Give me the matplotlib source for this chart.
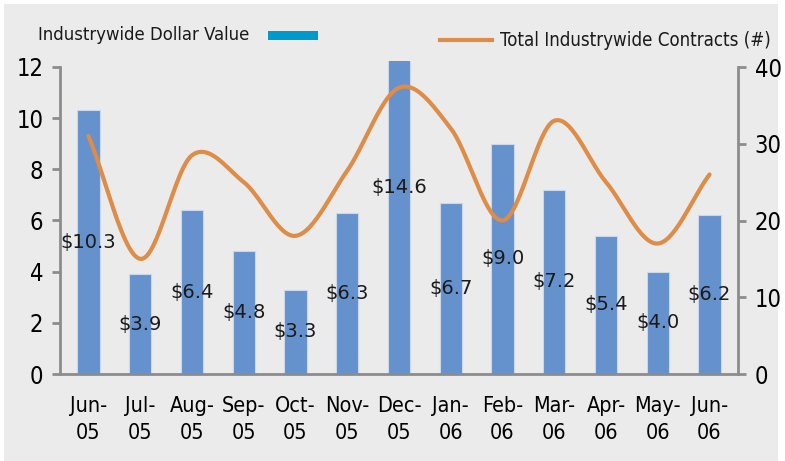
import numpy as np
import matplotlib.pyplot as plt
from matplotlib.patches import Rectangle
from matplotlib.lines import Line2D

# data
months = ["Jun-\n05", "Jul-\n05", "Aug-\n05", "Sep-\n05", "Oct-\n05", "Nov-\n05", "Dec-\n05",
          "Jan-\n06", "Feb-\n06", "Mar-\n06", "Apr-\n06", "May-\n06", "Jun-\n06"]
dollar_value = [10.3, 3.9, 6.4, 4.8, 3.3, 6.3, 14.6, 6.7, 9.0, 7.2, 5.4, 4.0, 6.2]
contracts = [31, 15, 28.5, 25, 18, 26.5, 37.3, 32, 20, 33, 25, 17, 26]

bar_color = "#6591cc"
legend_bar_color = "#0099cc"
line_color = "#dd8d47"
axis_gray = "#8c8c8c"
bg = "#ebebeb"
narrow = ["DejaVu Sans"]


def smooth(x, y, steps=30):
    # catmull-rom style smoothing, like the office "smoothed line"
    x = np.asarray(x, float)
    y = np.asarray(y, float)
    px = np.concatenate([[2 * x[0] - x[1]], x, [2 * x[-1] - x[-2]]])
    py = np.concatenate([[2 * y[0] - y[1]], y, [2 * y[-1] - y[-2]]])
    xs, ys = [], []
    t = np.linspace(0, 1, steps)
    for i in range(1, len(px) - 2):
        p0, p1, p2, p3 = py[i - 1], py[i], py[i + 1], py[i + 2]
        q0, q1, q2, q3 = px[i - 1], px[i], px[i + 1], px[i + 2]
        ys.append(0.5 * (2 * p1 + (-p0 + p2) * t + (2 * p0 - 5 * p1 + 4 * p2 - p3) * t**2
                         + (-p0 + 3 * p1 - 3 * p2 + p3) * t**3))
        xs.append(0.5 * (2 * q1 + (-q0 + q2) * t + (2 * q0 - 5 * q1 + 4 * q2 - q3) * t**2
                         + (-q0 + 3 * q1 - 3 * q2 + q3) * t**3))
    return np.concatenate(xs), np.concatenate(ys)


fig = plt.figure(figsize=(7.85, 4.61), dpi=100)
fig.patch.set_facecolor("white")
fig.patches.append(Rectangle((4 / 785, 0), 774 / 785, 457 / 461, transform=fig.transFigure,
                             facecolor=bg, edgecolor="none", zorder=-10))

top_px = 60.6
ax = fig.add_axes([60 / 785, 87 / 461, 678 / 785, (374 - top_px) / 461])
ax.set_facecolor("none")
x = np.arange(len(months))

ymax = 12 * (374 - top_px) / (374 - 67)
bars = ax.bar(x, dollar_value, width=0.43, color=bar_color, edgecolor="#c9d8ee", linewidth=0.8, zorder=2)
ax.set_ylim(0, ymax)
ax.set_xlim(-0.55, len(months) - 0.45)
ax.set_yticks([0, 2, 4, 6, 8, 10, 12])

for xi, v in zip(x, dollar_value):
    ax.text(xi, v / 2, f"${v:.1f}", ha="center", va="center", fontsize=14, color="#1a1a1a",
            zorder=5, family="DejaVu Sans")

ax2 = ax.twinx()
ax2.set_ylim(0, 40 * ymax / 12)
ax2.set_yticks([0, 10, 20, 30, 40])
sx, sy = smooth(x, contracts)
ax2.plot(sx, sy, color=line_color, linewidth=3, solid_capstyle="round", zorder=3)

for a in (ax, ax2):
    a.spines["top"].set_visible(False)
    a.spines["left"].set_visible(a is ax)
    a.spines["right"].set_visible(a is ax2)
    a.spines["bottom"].set_visible(a is ax)
    a.tick_params(axis="y", length=6, width=2, color=axis_gray, labelsize=17, pad=6)
    for lab in a.get_yticklabels():
        lab.set_family(narrow)
        lab.set_fontstretch("condensed")

ax.spines["left"].set_bounds(0, 12)
ax.spines["left"].set_color(axis_gray)
ax.spines["left"].set_linewidth(2)
ax.spines["bottom"].set_color(axis_gray)
ax.spines["bottom"].set_linewidth(2)
ax2.spines["right"].set_bounds(0, 40)
ax2.spines["right"].set_color(axis_gray)
ax2.spines["right"].set_linewidth(2)

ax.set_xticks(x)
ax.set_xticklabels(months, family=narrow, fontsize=15.5, linespacing=1.45, fontstretch="condensed")
ax.tick_params(axis="x", length=0, pad=16)

# legend drawn in figure space
fig.text(38 / 785, 1 - 35 / 461, "Industrywide Dollar Value", fontsize=13.2, family=narrow,
         va="center", ha="left", color="#1a1a1a", fontstretch="condensed")
fig.patches.append(Rectangle((268 / 785, 1 - 40 / 461), 50 / 785, 9 / 461, transform=fig.transFigure,
                             facecolor=legend_bar_color, edgecolor="none"))
fig.lines.append(Line2D([440 / 785, 492 / 785], [1 - 40 / 461, 1 - 40 / 461], transform=fig.transFigure,
                        color=line_color, linewidth=3))
fig.text(500 / 785, 1 - 40 / 461, "Total Industrywide Contracts (#)", fontsize=13.4, family=narrow,
         va="center", ha="left", color="#1a1a1a", fontstretch="condensed")

fig.savefig("out.png", dpi=100, facecolor=fig.get_facecolor())
